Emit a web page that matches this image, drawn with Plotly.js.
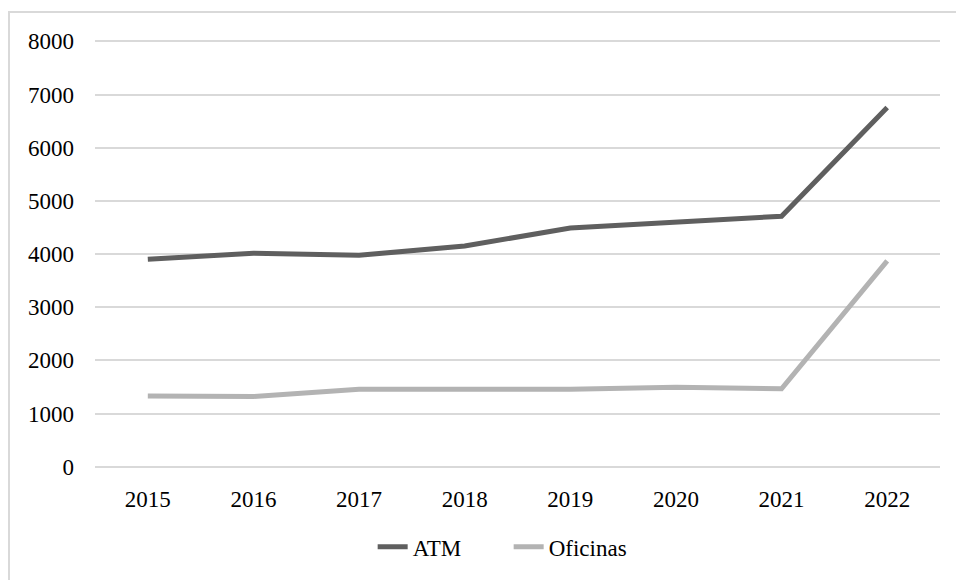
<!DOCTYPE html>
<html>
<head>
<meta charset="utf-8">
<script src="https://cdn.plot.ly/plotly-3.0.1.min.js"></script>
<style>
  html, body { margin: 0; padding: 0; background: #fff; }
  #wrap { position: relative; width: 956px; height: 580px; overflow: hidden; }
  #chart { position: absolute; left: 0; top: 0; width: 956px; height: 580px; }
  #frame { position: absolute; left: 8px; top: 11px; width: 960px; height: 580px;
           border-left: 2px solid #d9d9d9; border-top: 2px solid #d9d9d9; pointer-events: none; }
</style>
</head>
<body>
<div id="wrap">
  <div id="chart"></div>
  <div id="frame"></div>
</div>
<script>
const years = ["2015", "2016", "2017", "2018", "2019", "2020", "2021", "2022"];
const atm = [3900, 4015, 3975, 4150, 4490, 4600, 4710, 6755];
const oficinas = [1330, 1320, 1457, 1457, 1455, 1495, 1465, 3870];
const yTicks = [0, 1000, 2000, 3000, 4000, 5000, 6000, 7000, 8000];

const font = { family: "Liberation Serif, Times New Roman, DejaVu Serif, serif", size: 23, color: "#000" };

const traces = [
  { x: years, y: atm, name: "ATM", type: "scatter", mode: "lines",
    line: { color: "#5f5f5f", width: 5 } },
  { x: years, y: oficinas, name: "Oficinas", type: "scatter", mode: "lines",
    line: { color: "#b3b3b3", width: 5 } }
];

const layout = {
  width: 956, height: 580,
  margin: { l: 95, r: 16, t: 40, b: 107 },
  paper_bgcolor: "#fff", plot_bgcolor: "#fff",
  font: font,
  showlegend: true,
  legend: { orientation: "h", x: 0.3286, xanchor: "left", y: -0.184, yanchor: "middle",
            font: font, entrywidth: 91, entrywidthmode: "pixels", tracegroupgap: 0 },
  xaxis: { type: "category", range: [-0.5, 7.5], showgrid: false, zeroline: false, showline: false,
           ticks: "", ticklabelstandoff: 15, tickfont: font, fixedrange: true },
  yaxis: { range: [-25, 8025], tickvals: yTicks, ticktext: yTicks.map(String),
           showgrid: true, gridcolor: "#d9d9d9", gridwidth: 2, zeroline: false,
           showline: false, ticks: "", ticklabelstandoff: 20, tickfont: font, fixedrange: true }
};

Plotly.newPlot("chart", traces, layout, { displayModeBar: false, staticPlot: true });
</script>
</body>
</html>
